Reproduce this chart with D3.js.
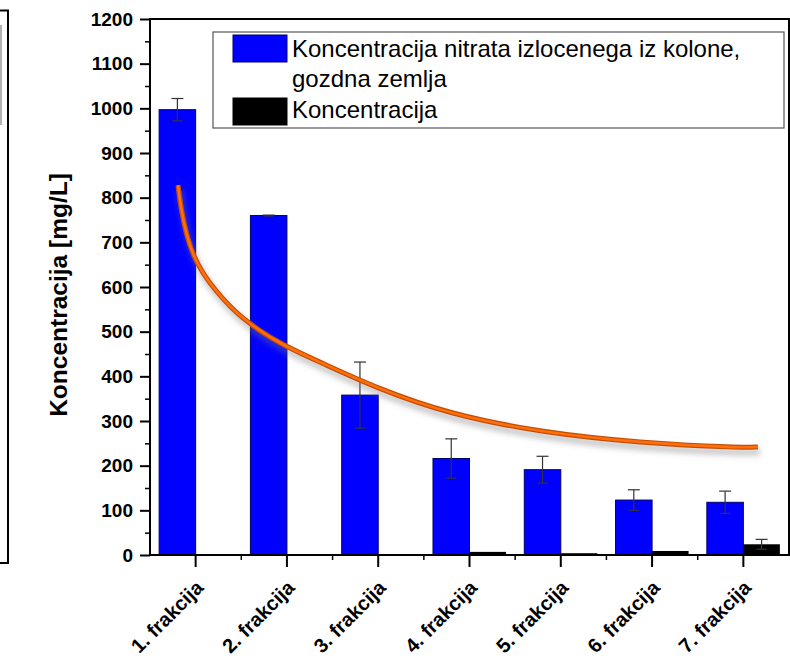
<!DOCTYPE html>
<html>
<head>
<meta charset="utf-8">
<script src="https://cdn.jsdelivr.net/npm/d3@7"></script>
<style>
  body { margin: 0; background: #fff; }
  svg { display: block; font-family: "Liberation Sans", Arial, sans-serif; }
  .axis path, .axis line { stroke: #000; }
  .axis text { font-weight: bold; font-size: 19px; fill: #000; }
  .axis.xaxis text { font-size: 20px; }
</style>
</head>
<body>
<svg id="chart" width="790" height="661"></svg>
<script>
const categories = ["1. frakcija", "2. frakcija", "3. frakcija", "4. frakcija", "5. frakcija", "6. frakcija", "7. frakcija"];
const nitrateValues = [997, 760, 358, 216, 191, 123, 118];
const nitrateErrors = [25, 1, 74, 44, 30, 23, 25];
const concValues = [1, 0, 0, 7, 4, 9, 24];
const concErrors = [0, 0, 0, 0, 0, 0, 11];
const yTicks = [0, 100, 200, 300, 400, 500, 600, 700, 800, 900, 1000, 1100, 1200];
const legendLabels = [["Koncentracija nitrata izlocenega iz kolone,", "gozdna zemlja"], ["Koncentracija"]];

// hand drawn trend curve, x = category index, y = value
const trendIndex = [-0.193, -0.16, -0.1, -0.02, 0.08, 0.212, 0.486, 0.924, 1.362, 1.998, 2.787, 3.772, 4.867, 5.962, 6.159];
const trendValues = [828, 775, 715, 668, 630, 593, 531, 472, 432, 372, 315, 275, 251, 240, 242];

const svg = d3.select("#chart");
const plotLeft = 150, plotRight = 789, plotTop = 19, plotBottom = 555;

const x = d3.scaleBand().domain(categories).range([plotLeft, plotRight]);
const bw = x.bandwidth();
const center = c => x(c) + bw / 2;
const y = d3.scaleLinear().domain([0, 1200]).range([plotBottom, plotTop]);
const xIdx = d3.scaleLinear().domain([0, 6]).range([center(categories[0]), center(categories[6])]);

const defs = svg.append("defs");
defs.append("filter").attr("id", "shadow")
    .attr("x", "-10%").attr("y", "-10%").attr("width", "130%").attr("height", "150%")
    .append("feDropShadow")
    .attr("dx", 2).attr("dy", 5).attr("stdDeviation", 3)
    .attr("flood-color", "#777").attr("flood-opacity", 0.55);

// left fragment of a neighbouring frame
svg.append("path").attr("d", "M0,10.5H8V563H0").attr("fill", "none").attr("stroke", "#000").attr("stroke-width", 2);
svg.append("line").attr("x1", 1).attr("x2", 1).attr("y1", 25).attr("y2", 125).attr("stroke", "#999").attr("stroke-width", 1.5);

// bars
const barW = bw * 0.4;
svg.append("g").selectAll("rect")
    .data(categories)
    .join("rect")
    .attr("x", c => center(c) - barW)
    .attr("y", (c, i) => y(nitrateValues[i]))
    .attr("width", barW)
    .attr("height", (c, i) => plotBottom - y(nitrateValues[i]))
    .attr("fill", "#0000ff")
    .attr("stroke", "#00006a")
    .attr("stroke-width", 1);

svg.append("g").selectAll("rect")
    .data(categories)
    .join("rect")
    .attr("x", c => center(c))
    .attr("y", (c, i) => y(concValues[i]))
    .attr("width", barW)
    .attr("height", (c, i) => plotBottom - y(concValues[i]))
    .attr("fill", "#000");

// error bars
const drawErrors = (values, errors, offset) => {
    const g = svg.append("g").attr("stroke", "#333").attr("stroke-width", 1.2);
    categories.forEach((c, i) => {
        if (!errors[i]) return;
        const cx = center(c) + offset;
        const hi = y(values[i] + errors[i]), lo = y(values[i] - errors[i]);
        g.append("line").attr("x1", cx).attr("x2", cx).attr("y1", hi).attr("y2", lo);
        g.append("line").attr("x1", cx - 6).attr("x2", cx + 6).attr("y1", hi).attr("y2", hi);
        g.append("line").attr("x1", cx - 5).attr("x2", cx + 5).attr("y1", lo).attr("y2", lo);
    });
};
drawErrors(nitrateValues, nitrateErrors, -barW / 2);
drawErrors(concValues, concErrors, barW / 2);

// trend curve
const trendLine = d3.line()
    .x((d, i) => xIdx(trendIndex[i]))
    .y(d => y(d))
    .curve(d3.curveBasis);
const trend = svg.append("g").attr("filter", "url(#shadow)");
trend.append("path").attr("d", trendLine(trendValues))
    .attr("fill", "none").attr("stroke", "#c24f00").attr("stroke-width", 5);
trend.append("path").attr("d", trendLine(trendValues))
    .attr("fill", "none").attr("stroke", "#ff6d0a").attr("stroke-width", 2.6);

// axes
const yAxis = svg.append("g").attr("class", "axis").attr("transform", `translate(${plotLeft},0)`)
    .call(d3.axisLeft(y).tickValues(yTicks).tickSize(10).tickPadding(7).tickFormat(d3.format("d")));
yAxis.selectAll("line").attr("stroke-width", 2);
yAxis.select(".domain").remove();
svg.append("g").attr("class", "axis").attr("transform", `translate(${plotLeft},0)`)
    .call(d3.axisLeft(y).tickValues(d3.range(50, 1200, 100)).tickSize(5).tickFormat(""))
    .call(g => g.select(".domain").remove())
    .selectAll("line").attr("stroke-width", 1.5);

const xAxis = svg.append("g").attr("class", "axis xaxis").attr("transform", `translate(0,${plotBottom})`)
    .call(d3.axisBottom(x).tickSize(12).tickSizeOuter(0));
xAxis.select(".domain").remove();
xAxis.selectAll("line").attr("stroke-width", 2);
xAxis.selectAll("text")
    .attr("text-anchor", "end")
    .attr("transform", "translate(4,29) rotate(-45)")
    .attr("dy", "0.35em")
    .attr("y", 0);

svg.append("g").selectAll("line")
    .data(categories.slice(1))
    .join("line")
    .attr("x1", c => x(c)).attr("x2", c => x(c))
    .attr("y1", plotBottom).attr("y2", plotBottom + 5)
    .attr("stroke", "#000").attr("stroke-width", 1.5);

// frame
svg.append("path")
    .attr("d", `M${plotLeft},${plotBottom}V${plotTop}H${plotRight}V${plotBottom}H${plotLeft}`)
    .attr("fill", "none").attr("stroke", "#000").attr("stroke-width", 2);

// y title
svg.append("text")
    .attr("transform", "translate(67,295) rotate(-90)")
    .attr("text-anchor", "middle")
    .attr("font-weight", "bold").attr("font-size", 24.5)
    .text("Koncentracija [mg/L]");

// legend
const legend = svg.append("g");
legend.append("rect").attr("x", 213).attr("y", 32).attr("width", 571).attr("height", 96)
    .attr("fill", "#fff").attr("stroke", "#555").attr("stroke-width", 1.2);
const swatchColors = ["#0000ff", "#000"];
const swatchY = [35, 98];
swatchColors.forEach((col, i) => {
    legend.append("rect").attr("x", 233).attr("y", swatchY[i]).attr("width", 54).attr("height", 27)
        .attr("fill", col).attr("stroke", i === 0 ? "#00006a" : "#000");
});
const legendBaselines = [[57, 87], [118]];
legendLabels.forEach((lines, i) => {
    lines.forEach((t, j) => {
        legend.append("text").attr("x", 292).attr("y", legendBaselines[i][j])
            .attr("font-size", 24).text(t);
    });
});
</script>
</body>
</html>
